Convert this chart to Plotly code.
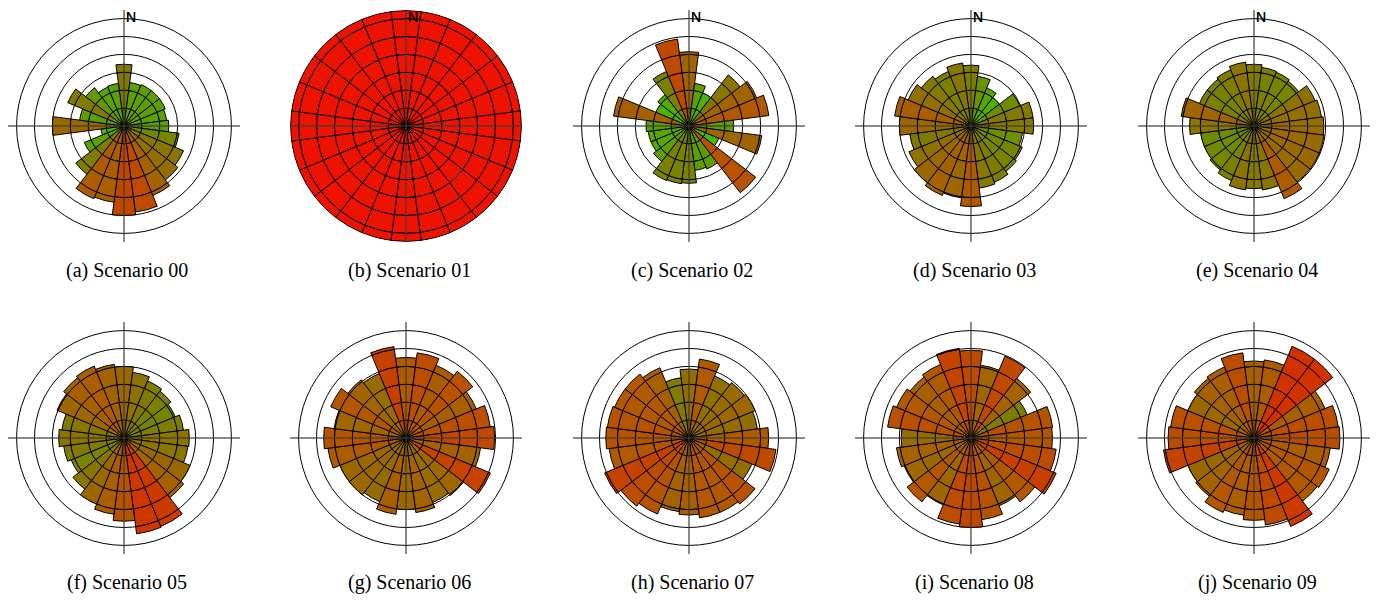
import plotly.graph_objects as go
import numpy as np

# sector centres (degrees clockwise from North), 24 sectors of 15 degrees
THETA = list(range(0, 360, 15))

# bar lengths (ring units) per sector
S00 = [3.45, 2.45, 2.5, 2.5, 2.5, 2.4, 2.5, 3.1, 3.6, 3.8, 4.2, 4.85,
       5.0, 4.3, 4.4, 3.4, 2.4, 1.3, 4.0, 2.5, 3.4, 2.7, 2.35, 2.4]
S01 = [6.45] * 24
S02 = [4.15, 2.4, 2.0, 3.6, 4.1, 4.5, 2.5, 4.1, 1.8, 4.7, 2.6, 2.5,
       3.2, 3.25, 3.3, 2.5, 2.3, 2.3, 2.4, 4.25, 2.0, 2.2, 3.3, 4.9]
S03 = [3.4, 2.8, 2.3, 2.0, 2.95, 3.5, 3.5, 2.9, 3.1, 3.2, 3.4, 3.5,
       4.5, 4.05, 4.2, 4.0, 3.75, 3.45, 4.0, 4.3, 3.8, 3.5, 3.3, 3.55]
S04 = [3.45, 3.3, 3.25, 3.15, 3.7, 3.8, 3.9, 3.95, 3.95, 3.95, 4.4, 3.6,
       3.5, 3.6, 3.3, 3.1, 3.0, 3.0, 3.6, 4.1, 3.3, 3.3, 3.4, 3.6]
S05 = [4.0, 3.7, 3.45, 3.3, 3.1, 3.35, 3.65, 3.6, 4.0, 4.2, 5.35, 5.4,
       4.65, 4.3, 4.0, 3.6, 3.2, 3.4, 3.65, 3.5, 4.05, 4.25, 4.35, 4.15]
S06 = [4.5, 4.8, 4.4, 4.7, 4.25, 4.75, 4.95, 4.2, 5.1, 4.05, 3.9, 4.2,
       4.0, 4.3, 3.85, 4.0, 4.0, 4.4, 4.6, 4.05, 4.55, 4.1, 3.9, 5.15]
S07 = [3.85, 4.45, 3.75, 3.9, 4.0, 3.85, 4.45, 4.9, 3.8, 4.65, 4.5, 4.5,
       4.3, 4.15, 4.6, 4.8, 5.1, 4.5, 4.65, 4.6, 4.5, 4.5, 4.25, 3.4]
S08 = [4.9, 4.1, 4.95, 4.2, 3.4, 4.6, 4.55, 4.8, 5.15, 4.5, 4.1, 4.6,
       5.0, 4.85, 4.05, 4.5, 4.05, 4.2, 3.9, 4.7, 4.5, 4.3, 4.45, 5.05]
S09 = [4.3, 4.4, 5.55, 5.55, 4.3, 4.75, 4.8, 4.3, 4.55, 4.45, 5.35, 4.9,
       4.6, 4.35, 4.5, 4.1, 4.0, 5.1, 4.8, 4.7, 4.0, 4.2, 4.3, 4.8]

SCENARIOS = [S00, S01, S02, S03, S04, S05, S06, S07, S08, S09]
CAPTIONS = ["(a) Scenario 00", "(b) Scenario 01", "(c) Scenario 02",
            "(d) Scenario 03", "(e) Scenario 04", "(f) Scenario 05",
            "(g) Scenario 06", "(h) Scenario 07", "(i) Scenario 08",
            "(j) Scenario 09"]
RING_TICKS = [1, 2, 3, 4, 5, 6]

# ---- styling / layout constants ----
OFF = 8                      # page body margin of the html page
W, H = 1385 - OFF, 602 - OFF
COL_X = [124, 406, 689, 971, 1254]
ROW_Y = [126, 438]
RPIX = 116          # pixel radius of each polar area
RMAX = 6.48         # radial range shown (17.9 px per ring)
CROSS = 6.62        # extent of the N-S / E-W cross
CMIN, CMAX = 1.8, 6.45
CSCALE = [[0.0, "rgb(65,190,0)"], [0.15, "rgb(95,158,0)"],
          [0.344, "rgb(128,124,0)"], [0.581, "rgb(178,88,0)"],
          [1.0, "rgb(238,18,0)"]]

fig = go.Figure()
layout_polars = {}
annotations = []

for i, vals in enumerate(SCENARIOS):
    pid = "polar" if i == 0 else f"polar{i + 1}"
    cx = COL_X[i % 5] - OFF
    cy = ROW_Y[i // 5] - OFF
    nseg = int(np.ceil(max(vals)))
    for k in range(nseg):
        idx = [j for j, v in enumerate(vals) if v > k]
        fig.add_trace(go.Barpolar(
            r=[min(1.0, vals[j] - k) for j in idx],
            base=[k] * len(idx),
            theta=[THETA[j] for j in idx],
            width=15,
            marker=dict(color=[vals[j] for j in idx], colorscale=CSCALE,
                        cmin=CMIN, cmax=CMAX, showscale=False,
                        line=dict(color="black", width=1)),
            subplot=pid, showlegend=False, hoverinfo="skip"))
    for a in (0, 90):
        fig.add_trace(go.Scatterpolar(
            r=[CROSS, CROSS], theta=[a, a + 180], mode="lines",
            line=dict(color="rgba(60,60,60,0.6)", width=2),
            subplot=pid, showlegend=False, hoverinfo="skip", cliponaxis=False))

    layout_polars[pid] = dict(
        domain=dict(x=[max(0.0, (cx - RPIX) / W), (cx + RPIX) / W],
                    y=[1 - (cy + RPIX) / H, 1 - (cy - RPIX) / H]),
        bgcolor="white",
        barmode="overlay",
        radialaxis=dict(range=[0, RMAX], tickvals=RING_TICKS,
                        showticklabels=False, ticks="", showline=False,
                        gridcolor="black", gridwidth=1),
        angularaxis=dict(rotation=90, direction="clockwise", showgrid=False,
                         showticklabels=False, ticks="", showline=False),
    )
    annotations.append(dict(
        text="N", x=(cx + 0.5) / W, y=1.0,
        xref="paper", yref="paper",
        xanchor="left", yanchor="top", showarrow=False, borderpad=0,
        font=dict(family="Liberation Sans", size=14, color="black")))
    annotations.append(dict(
        text=CAPTIONS[i], x=(cx + 3) / W, y=1 - (cy + 144) / H,
        xref="paper", yref="paper", xanchor="center", yanchor="middle",
        showarrow=False,
        font=dict(family="Liberation Serif", size=20, color="black")))

fig.update_layout(
    width=W, height=H, margin=dict(l=0, r=0, t=0, b=0),
    paper_bgcolor="white", plot_bgcolor="white",
    annotations=annotations, showlegend=False,
    **layout_polars)

fig.write_html("out.html")
